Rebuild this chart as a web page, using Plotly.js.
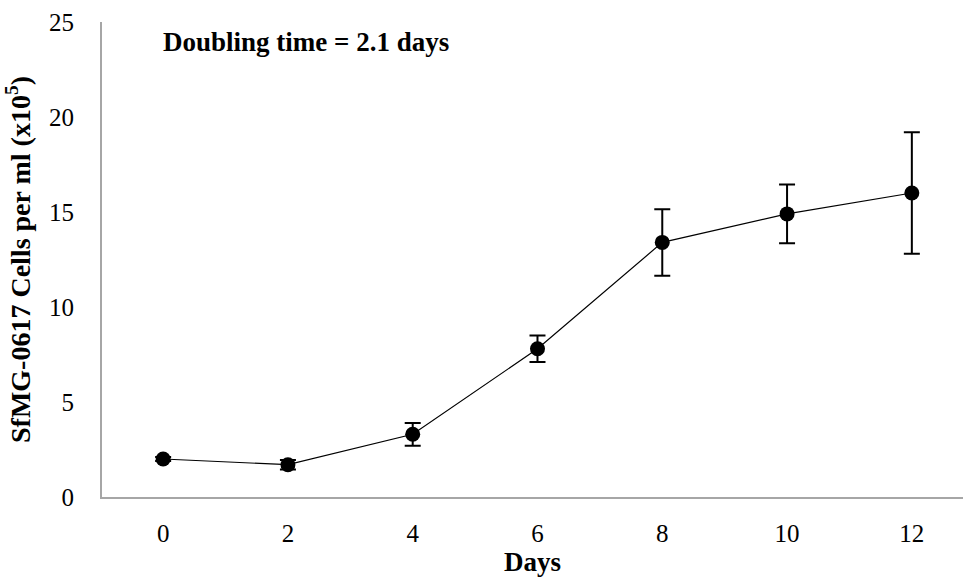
<!DOCTYPE html>
<html><head><meta charset="utf-8">
<script src="https://cdn.plot.ly/plotly-3.0.1.min.js"></script>
<style>body{margin:0;background:#fff}#c{width:963px;height:581px}</style>
</head><body><div id="c"></div>
<script>
const days = [0, 2, 4, 6, 8, 10, 12];
const cells = [2.0, 1.7, 3.3, 7.8, 13.4, 14.9, 16.0];
const errs = [0.1, 0.25, 0.6, 0.7, 1.75, 1.55, 3.2];
const tickVals = [0, 5, 10, 15, 20, 25];
const fontFam = "Liberation Serif, DejaVu Serif, serif";

Plotly.newPlot('c', [{
  x: days, y: cells, type: 'scatter', mode: 'lines+markers',
  line: {color: '#000', width: 1.2},
  marker: {color: '#000', size: 15},
  error_y: {type: 'data', array: errs, visible: true, color: '#000', thickness: 2, width: 8}
}], {
  width: 963, height: 581,
  margin: {l: 102, r: 0, t: 22, b: 84},
  paper_bgcolor: '#fff', plot_bgcolor: '#fff',
  showlegend: false,
  font: {family: fontFam, size: 25, color: '#000'},
  xaxis: {
    range: [-0.98, 12.82], tickvals: days, ticks: '', showgrid: false, zeroline: false,
    showline: true, linecolor: '#a6a6a6', linewidth: 2,
    tickfont: {size: 25}, ticklabelstandoff: 13,
    title: {text: '<b>Days</b>', font: {size: 27}, standoff: 5}
  },
  yaxis: {
    range: [0, 25], tickvals: tickVals, ticks: '', showgrid: false, zeroline: false,
    showline: true, linecolor: '#a6a6a6', linewidth: 2,
    tickfont: {size: 25}, ticklabelstandoff: 21,
    title: {text: '<b>SfMG-0617 Cells per ml (x10<sup>5</sup>)</b>', font: {size: 28}, standoff: 10}
  },
  annotations: [{
    text: '<b>Doubling time = 2.1 days</b>', xref: 'paper', yref: 'paper',
    x: 0.069, y: 0.958, xanchor: 'left', yanchor: 'middle', showarrow: false,
    font: {size: 27, family: fontFam}
  }]
}, {displayModeBar: false, staticPlot: true});
</script></body></html>
